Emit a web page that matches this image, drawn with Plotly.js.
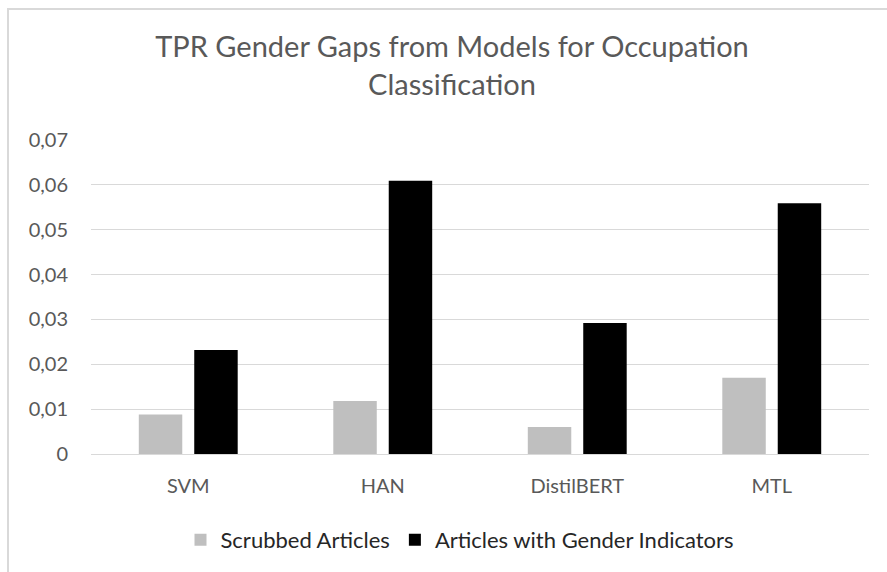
<!DOCTYPE html>
<html>
<head>
<meta charset="utf-8">
<script src="https://cdn.plot.ly/plotly-3.0.1.min.js"></script>
<style>html,body{margin:0;padding:0;background:#fff;}#chart{width:887px;height:572px;}</style>
</head>
<body>
<div id="chart"></div>
<script>
const categories = ["SVM", "HAN", "DistilBERT", "MTL"];
const seriesNames = ["Scrubbed Articles", "Articles with Gender Indicators"];
const scrubbed = [0.0088, 0.0118, 0.0060, 0.0170];
const withIndicators = [0.0232, 0.0609, 0.0292, 0.0559];
const yTickVals = [0, 0.01, 0.02, 0.03, 0.04, 0.05, 0.06, 0.07];
const yTickText = ["0", "0,01", "0,02", "0,03", "0,04", "0,05", "0,06", "0,07"];
const chartTitle = "TPR Gender Gaps from Models for Occupation<br>Classification";

const FONT = "Lato, 'Open Sans', sans-serif";
const traces = [
  {type: "bar", name: seriesNames[0], x: categories, y: scrubbed,
   marker: {color: "#bfbfbf", line: {width: 0}}, hoverinfo: "x+y"},
  {type: "bar", name: seriesNames[1], x: categories, y: withIndicators,
   marker: {color: "#000000", line: {width: 0}}, hoverinfo: "x+y"}
];
const layout = {
  width: 887, height: 572,
  paper_bgcolor: "#ffffff", plot_bgcolor: "#ffffff",
  margin: {l: 91, r: 18, t: 140, b: 118, pad: 0},
  font: {family: FONT, color: "#595959", size: 20},
  title: {text: chartTitle, font: {family: FONT, size: 29, color: "#595959"},
          xref: "container", x: 452/887, xanchor: "center",
          yref: "container", y: 1 - 57/572, yanchor: "top"},
  barmode: "group", bargap: 0.43, bargroupgap: 0.216,
  xaxis: {showgrid: false, showline: true, linecolor: "#d9d9d9", linewidth: 1,
          ticks: "", tickfont: {size: 20, color: "#595959"}, ticklabelstandoff: 14,
          zeroline: false, fixedrange: true},
  yaxis: {range: [0, 0.07], tickvals: yTickVals, ticktext: yTickText,
          showgrid: true, gridcolor: "#d9d9d9", gridwidth: 1, zeroline: false,
          showline: false, ticks: "", tickfont: {size: 20, color: "#595959"},
          ticklabelstandoff: 22, fixedrange: true},
  showlegend: true,
  legend: {orientation: "h", xref: "container", x: 460/887, xanchor: "center",
           yref: "container", y: 1 - 540/572, yanchor: "middle",
           font: {size: 22, color: "#262626"}, itemwidth: 30, traceorder: "normal",
           bgcolor: "rgba(0,0,0,0)"},
  shapes: [
    {type: "rect", xref: "paper", yref: "paper", layer: "below",
     x0: (8 - 91) / 778, x1: (900 - 91) / 778,
     y0: -0.8, y1: 1 + (140 - 9) / 314,
     line: {color: "#d9d9d9", width: 2}, fillcolor: "rgba(0,0,0,0)"}
  ]
};
Plotly.newPlot("chart", traces, layout, {displayModeBar: false, staticPlot: true});
</script>
</body>
</html>
